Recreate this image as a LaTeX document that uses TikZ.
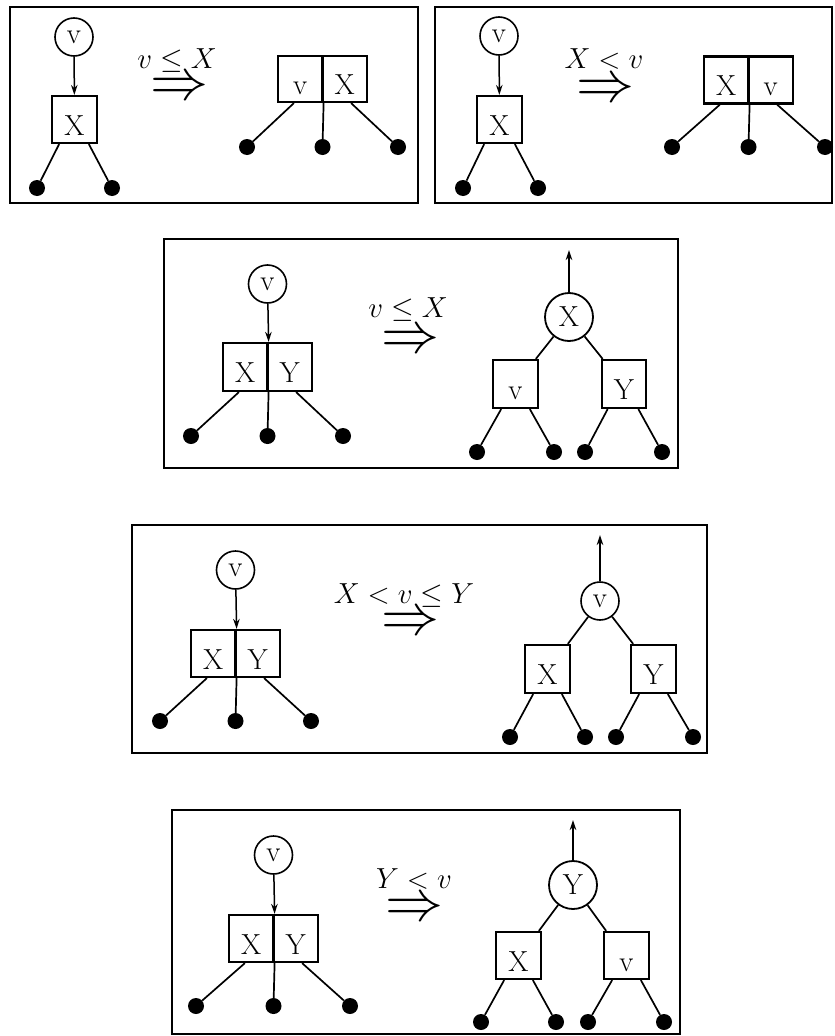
\RequirePackage{fix-cm}
\documentclass[tikz,border=0pt]{standalone}
\usepackage{fontspec}
\usetikzlibrary{arrows.meta}
\begin{document}
\begin{tikzpicture}[x=1pt,y=-1pt,
  every node/.style={font=\fontsize{29}{34}\selectfont},
  frame/.style={line width=2.4pt},
  vbox/.style={draw, line width=2.2pt, minimum width=44.5pt, minimum height=47pt, inner sep=0pt, text height=31pt, text depth=0pt},
  vcirc/.style={draw, circle, line width=1.6pt, minimum size=38pt, inner sep=0pt},
  bcirc/.style={draw, circle, line width=1.8pt, minimum size=48pt, inner sep=0pt},
  dot/.style={circle, fill, minimum size=16pt, inner sep=0pt},
  edge/.style={line width=1.7pt},
  arr/.style={line width=1.5pt, -{Stealth[length=10pt,width=6.5pt]}},
  impl/.style={scale=2, inner sep=0pt},
  cond/.style={anchor=base, inner sep=0pt}
]
\useasboundingbox (0,0) rectangle (835,1036);

% ---------------- Panel 1 ----------------
\draw[frame] (10,7) rectangle (418,203);
\node[vcirc] (p1c) at (74,37) {v};
\node[vbox] (p1b) at (74.5,119.5) {X};
\draw[arr] (p1c) -- (p1b);
\node[dot] (p1d1) at (37,188) {};
\node[dot] (p1d2) at (112,188) {};
\draw[edge] ([xshift=8pt]p1b.south west) -- (p1d1);
\draw[edge] ([xshift=-9pt]p1b.south east) -- (p1d2);
\node[cond] (p1t) at (177,68) {$v\le X$};
\node[impl] (p1a) at (179,89) {$\Rightarrow$};
\node[vbox, minimum height=46pt] (p1L) at (300.25,79) {v};
\node[vbox, minimum height=46pt] (p1R) at (344.75,79) {X};
\node[dot] (p1e1) at (247,147) {};
\node[dot] (p1e2) at (322.5,147) {};
\node[dot] (p1e3) at (398,147) {};
\draw[edge] ([xshift=17pt]p1L.south west) -- (p1e1);
\draw[edge] (p1L.south east) -- (p1e2);
\draw[edge] ([xshift=-17pt]p1R.south east) -- (p1e3);

% ---------------- Panel 2 ----------------
\draw[frame] (435,7) rectangle (832,203);
\node[vcirc] (p2c) at (499,36) {v};
\node[vbox] (p2b) at (499.5,119.5) {X};
\draw[arr] (p2c) -- (p2b);
\node[dot] (p2d1) at (463,188) {};
\node[dot] (p2d2) at (538,188) {};
\draw[edge] ([xshift=8pt]p2b.south west) -- (p2d1);
\draw[edge] ([xshift=-8pt]p2b.south east) -- (p2d2);
\node[cond] (p2t) at (604,68) {$X<v$};
\node[impl] (p2a) at (605,91) {$\Rightarrow$};
\node[vbox, minimum height=47pt] (p2L) at (726.25,80) {X};
\node[vbox, minimum height=47pt] (p2R) at (770.75,80) {v};
\node[dot] (p2e1) at (672,147) {};
\node[dot] (p2e2) at (748.5,147) {};
\node[dot] (p2e3) at (825,147) {};
\draw[edge] ([xshift=17pt]p2L.south west) -- (p2e1);
\draw[edge] (p2L.south east) -- (p2e2);
\draw[edge] ([xshift=-17pt]p2R.south east) -- (p2e3);

% ---------------- Panel 3 ----------------
\draw[frame] (164,239) rectangle (678,468);
\node[vcirc] (p3c) at (267.5,284) {v};
\node[vbox, minimum height=48pt] (p3L) at (245.25,367) {X};
\node[vbox, minimum height=48pt] (p3R) at (289.75,367) {Y};
\draw[arr] (p3c) -- (p3L.north east);
\node[dot] (p3d1) at (191,436) {};
\node[dot] (p3d2) at (267.5,436) {};
\node[dot] (p3d3) at (343,436) {};
\draw[edge] ([xshift=17pt]p3L.south west) -- (p3d1);
\draw[edge] (p3L.south east) -- (p3d2);
\draw[edge] ([xshift=-17pt]p3R.south east) -- (p3d3);
\node[cond] (p3t) at (408,317) {$v\le X$};
\node[impl] (p3a) at (410,342) {$\Rightarrow$};
\node[bcirc] (p3r) at (569,317) {X};
\coordinate (p3up) at (569,250);
\draw[arr] (p3r) -- (p3up);
\node[vbox, minimum height=48pt] (p3b1) at (515.5,384) {v};
\node[vbox, minimum height=48pt] (p3b2) at (624,384) {Y};
\draw[edge] (p3r) -- ([xshift=-3pt]p3b1.north east);
\draw[edge] (p3r) -- ([xshift=2pt]p3b2.north west);
\node[dot] (p3f1) at (477,452) {};
\node[dot] (p3f2) at (554,452) {};
\node[dot] (p3f3) at (585,452) {};
\node[dot] (p3f4) at (662,452) {};
\draw[edge] ([xshift=9pt]p3b1.south west) -- (p3f1);
\draw[edge] ([xshift=-9pt]p3b1.south east) -- (p3f2);
\draw[edge] ([xshift=7pt]p3b2.south west) -- (p3f3);
\draw[edge] ([xshift=-9pt]p3b2.south east) -- (p3f4);

% ---------------- Panel 4 ----------------
\draw[frame] (132,525) rectangle (707,753);
\node[vcirc] (p4c) at (235.5,570) {v};
\node[vbox] (p4L) at (213.25,653.5) {X};
\node[vbox] (p4R) at (257.75,653.5) {Y};
\draw[arr] (p4c) -- (p4L.north east);
\node[dot] (p4d1) at (160,721) {};
\node[dot] (p4d2) at (235.5,721) {};
\node[dot] (p4d3) at (311,721) {};
\draw[edge] ([xshift=17pt]p4L.south west) -- (p4d1);
\draw[edge] (p4L.south east) -- (p4d2);
\draw[edge] ([xshift=-17pt]p4R.south east) -- (p4d3);
\node[cond] (p4t) at (404,603) {$X<v\le Y$};
\node[impl] (p4a) at (410,624) {$\Rightarrow$};
\node[vcirc] (p4r) at (600,601) {v};
\coordinate (p4up) at (600,535);
\draw[arr] (p4r) -- (p4up);
\node[vbox, minimum height=48pt] (p4b1) at (547.5,669) {X};
\node[vbox, minimum height=48pt] (p4b2) at (653.5,669) {Y};
\draw[edge] (p4r) -- ([xshift=-3pt]p4b1.north east);
\draw[edge] (p4r) -- ([xshift=3pt]p4b2.north west);
\node[dot] (p4f1) at (510,737) {};
\node[dot] (p4f2) at (585,737) {};
\node[dot] (p4f3) at (616,737) {};
\node[dot] (p4f4) at (693,737) {};
\draw[edge] ([xshift=9pt]p4b1.south west) -- (p4f1);
\draw[edge] ([xshift=-9pt]p4b1.south east) -- (p4f2);
\draw[edge] ([xshift=9pt]p4b2.south west) -- (p4f3);
\draw[edge] ([xshift=-9pt]p4b2.south east) -- (p4f4);

% ---------------- Panel 5 ----------------
\draw[frame] (172,810) rectangle (680,1034);
\node[vcirc] (p5c) at (273.5,855) {v};
\node[vbox] (p5L) at (251.25,938.5) {X};
\node[vbox] (p5R) at (295.75,938.5) {Y};
\draw[arr] (p5c) -- (p5L.north east);
\node[dot] (p5d1) at (196,1006) {};
\node[dot] (p5d2) at (273.5,1006) {};
\node[dot] (p5d3) at (350,1006) {};
\draw[edge] ([xshift=17pt]p5L.south west) -- (p5d1);
\draw[edge] (p5L.south east) -- (p5d2);
\draw[edge] ([xshift=-17pt]p5R.south east) -- (p5d3);
\node[cond] (p5t) at (414,888) {$Y<v$};
\node[impl] (p5a) at (414,910) {$\Rightarrow$};
\node[bcirc] (p5r) at (573,885) {Y};
\coordinate (p5up) at (573,820);
\draw[arr] (p5r) -- (p5up);
\node[vbox] (p5b1) at (518.5,955.5) {X};
\node[vbox] (p5b2) at (626.5,955.5) {v};
\draw[edge] (p5r) -- ([xshift=-3pt]p5b1.north east);
\draw[edge] (p5r) -- ([xshift=3pt]p5b2.north west);
\node[dot] (p5f1) at (481,1022) {};
\node[dot] (p5f2) at (556,1022) {};
\node[dot] (p5f3) at (588,1022) {};
\node[dot] (p5f4) at (664,1022) {};
\draw[edge] ([xshift=9pt]p5b1.south west) -- (p5f1);
\draw[edge] ([xshift=-9pt]p5b1.south east) -- (p5f2);
\draw[edge] ([xshift=9pt]p5b2.south west) -- (p5f3);
\draw[edge] ([xshift=-9pt]p5b2.south east) -- (p5f4);
\end{tikzpicture}
\end{document}
